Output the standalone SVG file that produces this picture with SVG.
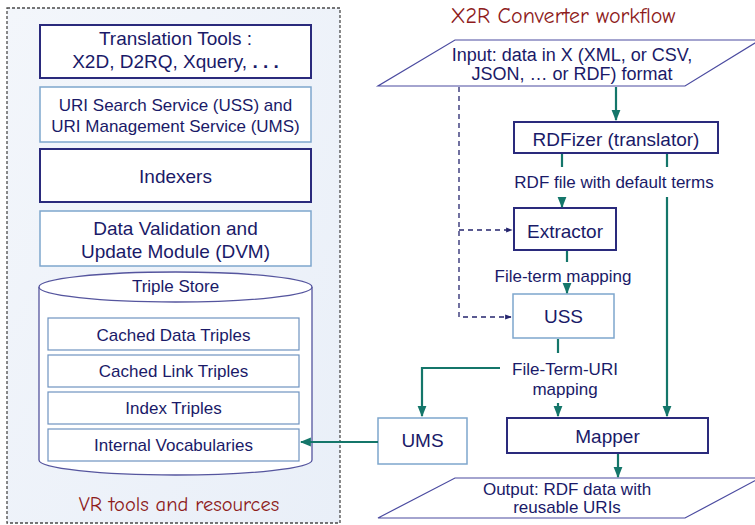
<svg xmlns="http://www.w3.org/2000/svg" width="755" height="525" viewBox="0 0 755 525">
  <defs>
    <linearGradient id="panelFill" x1="0" y1="0" x2="1" y2="1">
      <stop offset="0" stop-color="#f3f6fb"/>
      <stop offset="1" stop-color="#e9eff8"/>
    </linearGradient>
    <marker id="arrowTeal" viewBox="0 0 10 10" refX="9" refY="5" markerWidth="5" markerHeight="5" orient="auto">
      <path d="M0,1 L10,5 L0,9 z" fill="#14766a"/>
    </marker>
    <marker id="arrowNavy" viewBox="0 0 10 10" refX="9" refY="5" markerWidth="5" markerHeight="5" orient="auto">
      <path d="M0,1 L10,5 L0,9 z" fill="#25256e"/>
    </marker>
  </defs>
  <style>
    text { font-family: "Liberation Sans", Arial, sans-serif; fill: #1a1a68; text-anchor: middle; }
    .t19 { font-size: 19px; }
    .t18 { font-size: 18px; }
    .t17 { font-size: 17px; }
    .hand { font-family: "Comic Sans MS", "Comic Neue", "DejaVu Sans", sans-serif; fill: #8e1b1b; }
    .dark { fill: #ffffff; stroke: #2a2a7c; stroke-width: 2; }
    .light { fill: #ffffff; stroke: #7ea6cd; stroke-width: 1.5; }
    .inner { fill: #ffffff; stroke: #6f93c0; stroke-width: 1.2; }
    .io { fill: #ffffff; stroke: #4b4ba0; stroke-width: 1.2; }
    .flow { fill: none; stroke: #14766a; stroke-width: 2.2; }
    .dash { fill: none; stroke: #25256e; stroke-width: 1.3; stroke-dasharray: 5,4; }
  </style>

  <!-- VR tools and resources panel -->
  <g id="vr-panel">
    <rect x="7" y="8" width="333" height="515" fill="url(#panelFill)" stroke="#4a4a4a" stroke-width="1.3" stroke-dasharray="3,2"/>
    <text class="hand" x="179" y="511" font-size="20.5">VR tools and resources</text>
  </g>

  <g id="translation-tools">
    <rect class="dark" x="40" y="25" width="271" height="53"/>
    <text class="t19" x="175.5" y="45">Translation Tools :</text>
    <text class="t19" x="175.5" y="68">X2D, D2RQ, Xquery, <tspan font-weight="bold">. . .</tspan></text>
  </g>

  <g id="uri-services">
    <rect class="light" x="40" y="87" width="271" height="55"/>
    <text class="t17" x="175.5" y="111">URI Search Service (USS)  and</text>
    <text class="t17" x="175.5" y="132">URI Management Service (UMS)</text>
  </g>

  <g id="indexers">
    <rect class="dark" x="40" y="149" width="271" height="53"/>
    <text class="t19" x="175.5" y="183">Indexers</text>
  </g>

  <g id="dvm">
    <rect class="light" x="40" y="211" width="271" height="55"/>
    <text class="t19" x="175.5" y="235">Data Validation and</text>
    <text class="t19" x="175.5" y="258">Update Module (DVM)</text>
  </g>

  <g id="triple-store">
    <path d="M39,287 L39,460 A136.5,15 0 0 0 312,460 L312,287" fill="#ffffff" stroke="#55559e" stroke-width="1.3"/>
    <ellipse cx="175.5" cy="287" rx="136.5" ry="15" fill="#ffffff" stroke="#55559e" stroke-width="1.3"/>
    <text class="t17" x="175.5" y="292">Triple Store</text>
    <g id="cached-data">
      <rect class="inner" x="48" y="318" width="251" height="32"/>
      <text class="t17" x="173.5" y="341">Cached Data Triples</text>
    </g>
    <g id="cached-link">
      <rect class="inner" x="48" y="355" width="251" height="32"/>
      <text class="t17" x="173.5" y="377">Cached Link Triples</text>
    </g>
    <g id="index-triples">
      <rect class="inner" x="48" y="392" width="251" height="32"/>
      <text class="t17" x="173.5" y="414">Index Triples</text>
    </g>
    <g id="internal-vocab">
      <rect class="inner" x="48" y="429" width="251" height="32"/>
      <text class="t17" x="173.5" y="451">Internal Vocabularies</text>
    </g>
  </g>

  <!-- X2R Converter workflow -->
  <text class="hand" x="563" y="23" font-size="22">X2R Converter workflow</text>

  <g id="input">
    <polygon class="io" points="455,40 760,40 685,86 378,86"/>
    <text class="t18" x="572" y="61">Input: data in X (XML, or CSV,</text>
    <text class="t18" x="572" y="80">JSON, … or RDF) format</text>
  </g>

  <g id="rdfizer">
    <rect class="dark" x="514" y="122" width="204" height="31"/>
    <text class="t19" x="616" y="146">RDFizer (translator)</text>
  </g>

  <g id="extractor">
    <rect class="dark" x="514" y="208" width="102" height="42"/>
    <text class="t19" x="565" y="238">Extractor</text>
  </g>

  <g id="uss">
    <rect class="light" x="513" y="294" width="101" height="44"/>
    <text class="t19" x="563.5" y="323">USS</text>
  </g>

  <g id="ums">
    <rect class="light" x="378" y="418" width="89" height="46"/>
    <text class="t19" x="422.5" y="447">UMS</text>
  </g>

  <g id="mapper">
    <rect class="dark" x="507" y="418" width="201" height="35"/>
    <text class="t19" x="607.5" y="443">Mapper</text>
  </g>

  <g id="output">
    <polygon class="io" points="455,478 760,478 685,518 378,518"/>
    <text class="t17" x="567" y="495">Output: RDF data with</text>
    <text class="t17" x="567" y="513">reusable URIs</text>
  </g>

  <!-- connectors and their labels -->
  <g id="connectors">
    <line class="flow" x1="616" y1="87" x2="616" y2="120" marker-end="url(#arrowTeal)"/>
    <line class="flow" x1="562" y1="154" x2="562" y2="167"/>
    <line class="flow" x1="667" y1="154" x2="667" y2="167"/>
    <text class="t17" x="614" y="188">RDF file with default terms</text>
    <line class="flow" x1="562" y1="197" x2="562" y2="207" marker-end="url(#arrowTeal)"/>
    <line class="flow" x1="667" y1="197" x2="667" y2="416" marker-end="url(#arrowTeal)"/>

    <line class="flow" x1="567" y1="251" x2="567" y2="262"/>
    <text class="t17" x="563" y="282">File-term mapping</text>
    <line class="flow" x1="567" y1="287" x2="567" y2="293" marker-end="url(#arrowTeal)"/>

    <line class="flow" x1="558" y1="339" x2="558" y2="353"/>
    <text class="t17" x="565" y="375">File-Term-URI</text>
    <text class="t17" x="565" y="395">mapping</text>
    <line class="flow" x1="558" y1="403" x2="558" y2="416" marker-end="url(#arrowTeal)"/>
    <polyline class="flow" points="500,368 422,368 422,416" marker-end="url(#arrowTeal)"/>

    <line class="flow" x1="378" y1="442" x2="301" y2="442" marker-end="url(#arrowTeal)"/>
    <line class="flow" x1="618" y1="454" x2="618" y2="477" marker-end="url(#arrowTeal)"/>

    <polyline class="dash" points="459,87 459,317 511,317" marker-end="url(#arrowNavy)"/>
    <line class="dash" x1="459" y1="230" x2="512" y2="230" marker-end="url(#arrowNavy)"/>
  </g>
</svg>
